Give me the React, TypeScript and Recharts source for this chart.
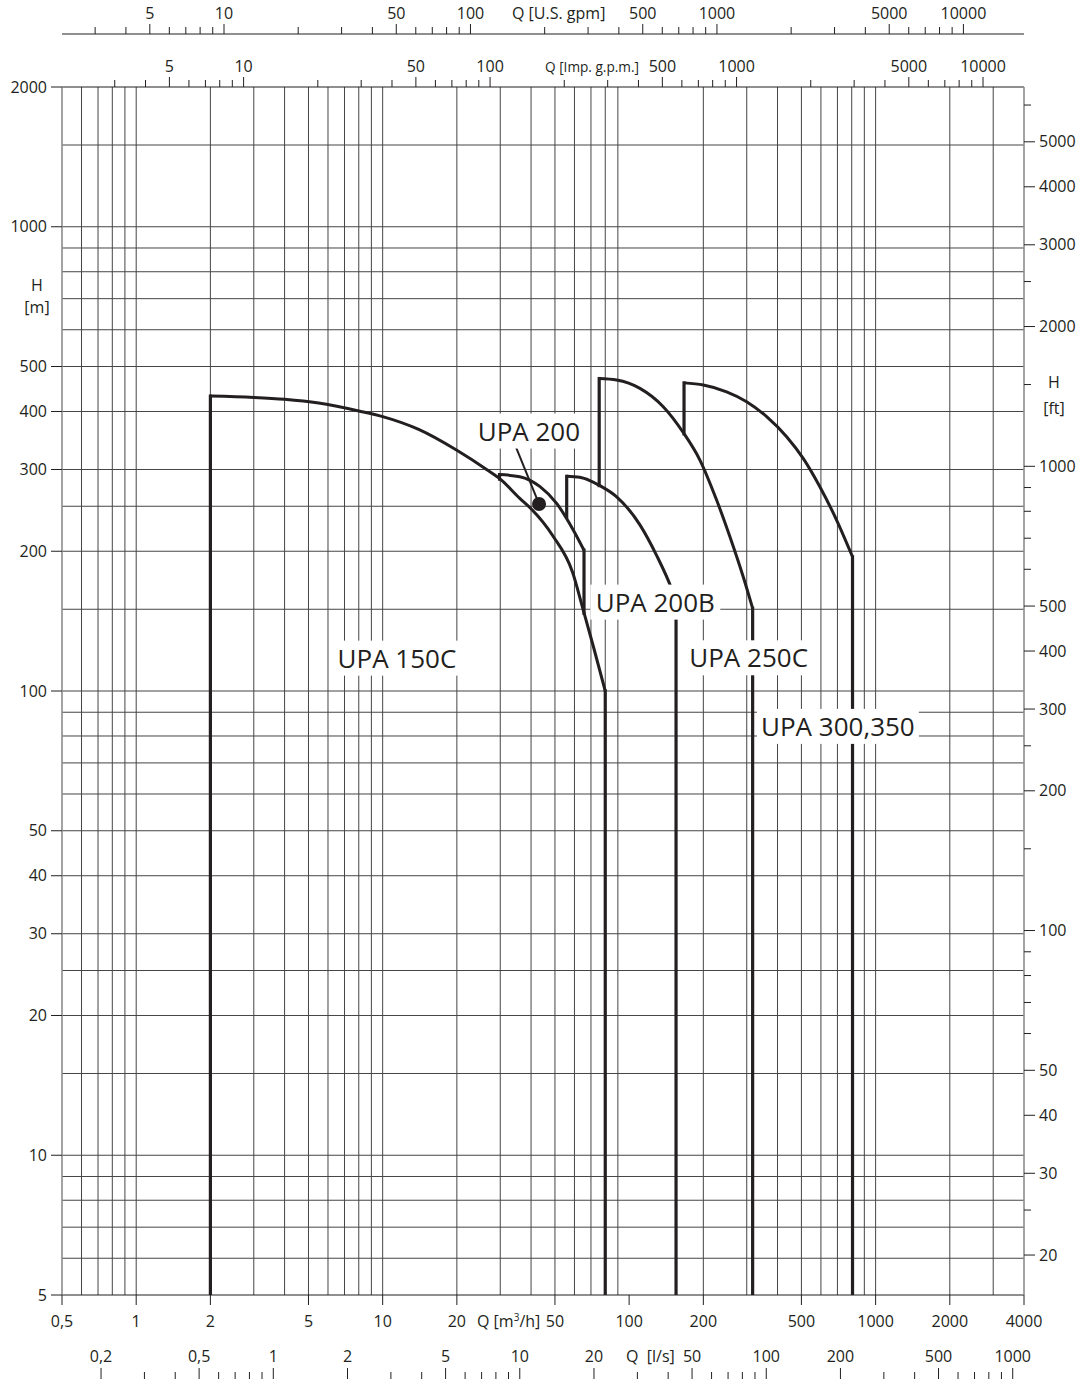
import React from "react";
import { ComposedChart, Line, XAxis, YAxis, ReferenceLine, ReferenceDot } from "recharts";

// unit conversions from the main scales (m3/h, m)
const US_GPM = 4.402868;
const IMP_GPM = 3.666154;
const LPS = 1 / 3.6;
const FT = 3.28084;

const Q_MIN = 0.5;
const Q_MAX = 4000;
const H_MIN = 5;
const H_MAX = 2000;

// axis ticks
const qTicks = [0.5, 1, 2, 5, 10, 20, 50, 100, 200, 500, 1000, 2000, 4000];
const hTicks = [5, 10, 20, 30, 40, 50, 100, 200, 300, 400, 500, 1000, 2000];
const gpmTicks = [
  3, 4, 5, 6, 7, 8, 9, 10, 20, 30, 40, 50, 60, 70, 80, 90, 100, 200, 300, 400, 500, 600, 700, 800, 900,
  1000, 2000, 3000, 4000, 5000, 6000, 7000, 8000, 9000, 10000,
];
const gpmLabels = [5, 10, 50, 100, 500, 1000, 5000, 10000];
const lpsTicks = [
  0.2, 0.3, 0.4, 0.5, 0.6, 0.7, 0.8, 0.9, 1, 2, 3, 4, 5, 6, 7, 8, 9, 10, 20, 30, 40, 50, 60, 70, 80, 90,
  100, 200, 300, 400, 500, 600, 700, 800, 900, 1000,
];
const lpsLabels = [0.2, 0.5, 1, 2, 5, 10, 20, 50, 100, 200, 500, 1000];
const ftTicks = [
  20, 25, 30, 40, 50, 60, 70, 80, 90, 100, 150, 200, 250, 300, 400, 500, 600, 700, 800, 900, 1000, 1500,
  2000, 2500, 3000, 4000, 5000, 6000,
];
const ftLabels = [20, 30, 40, 50, 100, 200, 300, 400, 500, 1000, 2000, 3000, 4000, 5000];

// grid lines
const qGrid = [
  0.6, 0.7, 0.8, 0.9, 1, 2, 3, 4, 5, 6, 7, 8, 9, 10, 20, 30, 40, 50, 60, 70, 80, 90, 200, 300, 400, 500,
  600, 700, 800, 900, 1000, 2000, 3000,
];
const hGrid = [
  6, 7, 8, 9, 10, 15, 20, 25, 30, 40, 50, 60, 70, 80, 90, 100, 150, 200, 250, 300, 400, 500, 600, 700,
  800, 900, 1000, 1500,
];

// pump ranges [Q m3/h, H m]
const upa150cRise = [[2, 5], [2, 432]];
const upa150cCurve = [
  [2, 432], [3, 429], [4, 425], [5.5, 417], [8, 401], [10, 390], [14, 366], [20, 330], [26.4, 300],
  [30, 286], [36, 260], [40, 247], [49, 216], [59, 180], [65, 150], [71.5, 125], [80, 100],
];
const upa150cDrop = [[80, 100], [80, 5]];

const upa200Rise = [[29.8, 286], [29.8, 292.5]];
const upa200Curve = [[29.8, 292.5], [36, 289.5], [43.5, 275.5], [50.8, 253.6], [59.4, 222], [65.6, 201]];
const upa200Drop = [[65.6, 201], [65.6, 147]];

const upa200bRise = [[55.8, 237], [55.8, 290]];
const upa200bCurve = [
  [55.8, 290], [63, 288.6], [69.3, 284], [76, 277], [89, 262], [110.6, 228], [129.2, 196], [148.7, 166],
  [155, 156],
];
const upa200bDrop = [[155, 156], [155, 5]];

const upa250cRise = [[75.6, 277], [75.6, 471]];
const upa250cCurve = [
  [75.6, 471], [89, 467.5], [110.6, 448.5], [137.5, 409.6], [166, 360], [193.7, 314.4], [226.4, 257.8],
  [256.4, 214.9], [290.3, 176.2], [317, 150.7],
];
const upa250cDrop = [[317, 150.7], [317, 5]];

const upa300Rise = [[167, 358], [167, 461]];
const upa300Curve = [
  [167, 461], [200, 456], [248.6, 441], [299.7, 420], [361.3, 390], [435.5, 353], [508.4, 317],
  [594, 275.4], [694.5, 233.5], [806, 194.6],
];
const upa300Drop = [[806, 194.6], [806, 5]];

// UPA 200 pointer and marker
const upa200Pointer = [[34.7, 335.7], [42.2, 260]];
const upa200Marker = [43.1, 252.8];

const labels = [
  { text: "UPA 150C", q: 11.43, h: 117.7, w: 122 },
  { text: "UPA 200", q: 39.2, h: 363, w: 106 },
  { text: "UPA 200B", q: 127.7, h: 155.4, w: 130 },
  { text: "UPA 250C", q: 305.4, h: 117.9, w: 128 },
  { text: "UPA 300,350", q: 703, h: 83.9, w: 162 },
];

const pts = (a: number[][]) => a.map(([q, h]) => ({ q, h }));
// invisible two-point series that give the secondary x axes their span
const span = (k: number) => pts([[Q_MIN * k, 100], [Q_MAX * k, 100]]);

const INK = "#231f20";
const GRID = "#454545";
const AXIS_GREY = "#8c8c8c";
const FONT = "'Open Sans', 'Noto Sans', sans-serif";

const fmt = (v: number) => String(v).replace(".", ",");

const topTick = (marks: number[]) => (props: any) => {
  const { x, y, payload } = props;
  const major = marks.includes(payload.value);
  return (
    <g>
      <line x1={x} x2={x} y1={y} y2={y - (major ? 10 : 7)} stroke={INK} strokeWidth={1} />
      {major && (
        <text x={x} y={y - 15} textAnchor="middle" fontSize={16} fontFamily={FONT} fill={INK}>
          {fmt(payload.value)}
        </text>
      )}
    </g>
  );
};

const m3Tick = (props: any) => {
  const { x, y, payload } = props;
  return (
    <g>
      <line x1={x} x2={x} y1={y} y2={y + 10} stroke={INK} strokeWidth={1} />
      <text x={x} y={y + 32} textAnchor="middle" fontSize={16} fontFamily={FONT} fill={INK}>
        {fmt(payload.value)}
      </text>
    </g>
  );
};

const lpsTick = (props: any) => {
  const { x, y, payload } = props;
  const major = lpsLabels.includes(payload.value);
  const base = y + 4;
  return (
    <g>
      <line x1={x} x2={x} y1={base} y2={base - (major ? 11 : 7)} stroke={INK} strokeWidth={1} />
      {major && (
        <text x={x} y={base - 17} textAnchor="middle" fontSize={16} fontFamily={FONT} fill={INK}>
          {fmt(payload.value)}
        </text>
      )}
    </g>
  );
};

const mTick = (props: any) => {
  const { x, y, payload } = props;
  return (
    <g>
      <line x1={x - 11} x2={x} y1={y} y2={y} stroke={INK} strokeWidth={1} />
      <text x={x - 15} y={y + 5.5} textAnchor="end" fontSize={16} fontFamily={FONT} fill={INK}>
        {payload.value}
      </text>
    </g>
  );
};

const ftTick = (props: any) => {
  const { x, y, payload } = props;
  const major = ftLabels.includes(payload.value);
  return (
    <g>
      <line x1={x} x2={x + (major ? 11 : 7)} y1={y} y2={y} stroke={INK} strokeWidth={1} />
      {major && (
        <text x={x + 15} y={y + 5.5} textAnchor="start" fontSize={16} fontFamily={FONT} fill={INK}>
          {payload.value}
        </text>
      )}
    </g>
  );
};

const boxLabel = (text: string, w: number) => (props: any) => {
  const { cx, cy } = props;
  return (
    <g>
      <rect x={cx - w / 2} y={cy - 17.5} width={w} height={35} fill="#fff" />
      <text x={cx} y={cy + 9.5} textAnchor="middle" fontSize={26} fontFamily={FONT} fill={INK}>
        {text}
      </text>
    </g>
  );
};

const curves = [upa150cCurve, upa200Curve, upa200bCurve, upa250cCurve, upa300Curve];
const straights = [
  upa150cRise, upa150cDrop, upa200Rise, upa200Drop, upa200bRise, upa200bDrop, upa250cRise, upa250cDrop,
  upa300Rise, upa300Drop,
];

const txt = { fontSize: 16, fontFamily: FONT, fill: INK };

const logX = {
  type: "number" as const,
  scale: "log" as const,
  dataKey: "q",
  allowDataOverflow: true,
  interval: 0,
  tickSize: 0,
  tickMargin: 0,
  tickLine: false,
};

// axis ids sort in the order the axes stack outward from the plot
const MAIN_X = "b1";
const LPS_X = "b2";
const IMP_X = "t1";
const US_X = "t2";

export default function App() {
  return (
    <div style={{ position: "absolute", left: 0, top: 0, background: "#fff" }}>
      <ComposedChart width={1081} height={1379} margin={{ top: 0, right: 0, bottom: 0, left: 0 }}>
        <XAxis
          xAxisId={IMP_X}
          {...logX}
          orientation="top"
          domain={[Q_MIN * IMP_GPM, Q_MAX * IMP_GPM]}
          ticks={gpmTicks}
          height={53}
          axisLine={{ stroke: INK, strokeWidth: 1.2 }}
          tick={topTick(gpmLabels)}
        />
        <XAxis
          xAxisId={US_X}
          {...logX}
          orientation="top"
          domain={[Q_MIN * US_GPM, Q_MAX * US_GPM]}
          ticks={gpmTicks}
          height={34}
          axisLine={{ stroke: INK, strokeWidth: 1.2 }}
          tick={topTick(gpmLabels)}
        />
        <XAxis
          xAxisId={MAIN_X}
          {...logX}
          orientation="bottom"
          domain={[Q_MIN, Q_MAX]}
          ticks={qTicks}
          height={80}
          axisLine={{ stroke: INK, strokeWidth: 1.2 }}
          tick={m3Tick}
        />
        <XAxis
          xAxisId={LPS_X}
          {...logX}
          orientation="bottom"
          domain={[Q_MIN * LPS, Q_MAX * LPS]}
          ticks={lpsTicks}
          height={4}
          axisLine={false}
          tick={lpsTick}
        />
        <YAxis
          yAxisId="m"
          dataKey="h"
          orientation="left"
          type="number"
          scale="log"
          domain={[H_MIN, H_MAX]}
          allowDataOverflow
          ticks={hTicks}
          interval={0}
          width={62}
          tickSize={0}
          tickMargin={0}
          tickLine={false}
          axisLine={{ stroke: AXIS_GREY, strokeWidth: 1.6 }}
          tick={mTick}
        />
        <YAxis
          yAxisId="ft"
          orientation="right"
          type="number"
          scale="log"
          domain={[H_MIN * FT, H_MAX * FT]}
          allowDataOverflow
          ticks={ftTicks}
          interval={0}
          width={57}
          tickSize={0}
          tickMargin={0}
          tickLine={false}
          axisLine={{ stroke: AXIS_GREY, strokeWidth: 1.6 }}
          tick={ftTick}
        />

        {[
          [IMP_X, IMP_GPM],
          [US_X, US_GPM],
          [LPS_X, LPS],
        ].map(([id, k]) => (
          <Line
            key={"span" + id}
            xAxisId={id as string}
            yAxisId="m"
            data={span(k as number)}
            dataKey="h"
            stroke="none"
            dot={false}
            activeDot={false}
            legendType="none"
            isAnimationActive={false}
          />
        ))}

        {qGrid.map((v) => (
          <ReferenceLine key={"gx" + v} xAxisId={MAIN_X} yAxisId="m" x={v} stroke={GRID} strokeWidth={1} />
        ))}
        {hGrid.map((v) => (
          <ReferenceLine key={"gy" + v} xAxisId={MAIN_X} yAxisId="m" y={v} stroke={GRID} strokeWidth={1} />
        ))}

        {curves.map((c, i) => (
          <Line
            key={"c" + i}
            xAxisId={MAIN_X}
            yAxisId="m"
            data={pts(c)}
            dataKey="h"
            type="monotone"
            stroke={INK}
            strokeWidth={3}
            dot={false}
            activeDot={false}
            isAnimationActive={false}
          />
        ))}
        {straights.map((c, i) => (
          <Line
            key={"s" + i}
            xAxisId={MAIN_X}
            yAxisId="m"
            data={pts(c)}
            dataKey="h"
            type="linear"
            stroke={INK}
            strokeWidth={3.2}
            strokeLinecap="square"
            dot={false}
            activeDot={false}
            isAnimationActive={false}
          />
        ))}

        {labels.map((l) => (
          <ReferenceDot
            key={l.text}
            xAxisId={MAIN_X}
            yAxisId="m"
            x={l.q}
            y={l.h}
            r={1}
            shape={boxLabel(l.text, l.w)}
          />
        ))}
        <ReferenceLine
          xAxisId={MAIN_X}
          yAxisId="m"
          segment={pts(upa200Pointer).map((p) => ({ x: p.q, y: p.h }))}
          stroke={INK}
          strokeWidth={2}
        />
        <ReferenceDot
          xAxisId={MAIN_X}
          yAxisId="m"
          x={upa200Marker[0]}
          y={upa200Marker[1]}
          r={7}
          fill={INK}
          stroke="none"
        />

        <text x={512} y={19} {...txt}>Q [U.S. gpm]</text>
        <text x={545} y={72} {...txt} fontSize={15} textLength={94} lengthAdjust="spacingAndGlyphs">
          Q [Imp. g.p.m.]
        </text>
        <text x={477} y={1327} {...txt}>
          Q [m<tspan dy={-6} fontSize={10}>3</tspan>
          <tspan dy={6}>/h]</tspan>
        </text>
        <text x={626} y={1362} {...txt}>{"Q\u00a0\u00a0[l/s]"}</text>
        <text x={37} y={291} textAnchor="middle" {...txt}>H</text>
        <text x={37} y={313} textAnchor="middle" {...txt}>[m]</text>
        <text x={1054} y={388} textAnchor="middle" {...txt}>H</text>
        <text x={1054} y={414} textAnchor="middle" {...txt}>[ft]</text>
      </ComposedChart>
    </div>
  );
}
